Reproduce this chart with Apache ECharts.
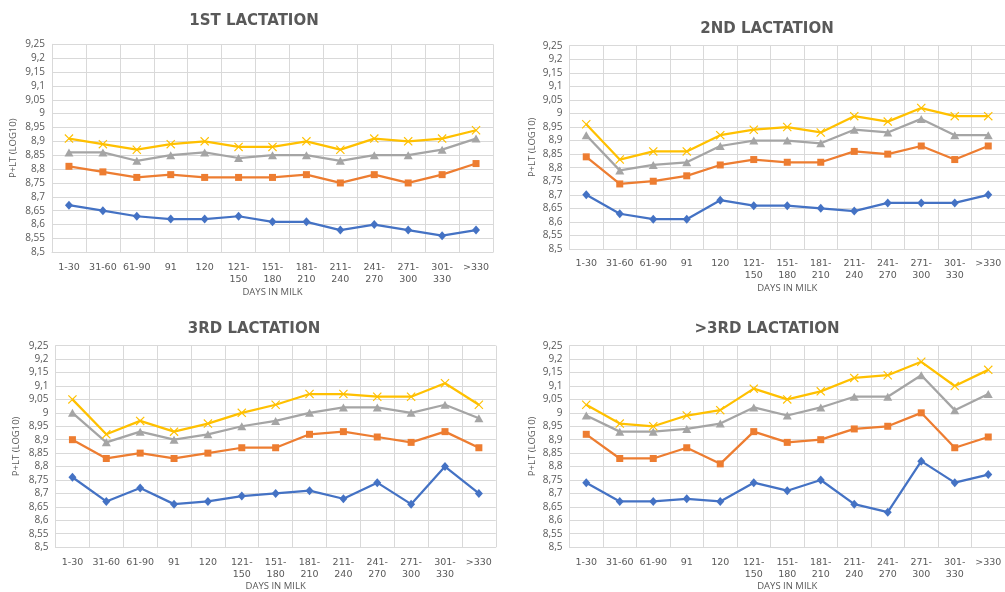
<!DOCTYPE html>
<html><head><meta charset="utf-8">
<script src="https://cdn.jsdelivr.net/npm/echarts@6/dist/echarts.min.js"></script>
<style>html,body{margin:0;padding:0;background:#fff}#c{width:1005px;height:592px}</style>
</head><body><div id="c"></div>
<script>
const categories = ['1-30','31-60','61-90','91','120','121-\n150','151-\n180','181-\n210','211-\n240','241-\n270','271-\n300','301-\n330','>330'];
const panelTitles = ['1ST LACTATION','2ND LACTATION','3RD LACTATION','>3RD LACTATION'];
const yTicks = {min: 8.5, max: 9.25, interval: 0.05};

const p1Blue   = [8.67,8.65,8.63,8.62,8.62,8.63,8.61,8.61,8.58,8.60,8.58,8.56,8.58];
const p1Orange = [8.81,8.79,8.77,8.78,8.77,8.77,8.77,8.78,8.75,8.78,8.75,8.78,8.82];
const p1Gray   = [8.86,8.86,8.83,8.85,8.86,8.84,8.85,8.85,8.83,8.85,8.85,8.87,8.91];
const p1Yellow = [8.91,8.89,8.87,8.89,8.90,8.88,8.88,8.90,8.87,8.91,8.90,8.91,8.94];

const p2Blue   = [8.70,8.63,8.61,8.61,8.68,8.66,8.66,8.65,8.64,8.67,8.67,8.67,8.70];
const p2Orange = [8.84,8.74,8.75,8.77,8.81,8.83,8.82,8.82,8.86,8.85,8.88,8.83,8.88];
const p2Gray   = [8.92,8.79,8.81,8.82,8.88,8.90,8.90,8.89,8.94,8.93,8.98,8.92,8.92];
const p2Yellow = [8.96,8.83,8.86,8.86,8.92,8.94,8.95,8.93,8.99,8.97,9.02,8.99,8.99];

const p3Blue   = [8.76,8.67,8.72,8.66,8.67,8.69,8.70,8.71,8.68,8.74,8.66,8.80,8.70];
const p3Orange = [8.90,8.83,8.85,8.83,8.85,8.87,8.87,8.92,8.93,8.91,8.89,8.93,8.87];
const p3Gray   = [9.00,8.89,8.93,8.90,8.92,8.95,8.97,9.00,9.02,9.02,9.00,9.03,8.98];
const p3Yellow = [9.05,8.92,8.97,8.93,8.96,9.00,9.03,9.07,9.07,9.06,9.06,9.11,9.03];

const p4Blue   = [8.74,8.67,8.67,8.68,8.67,8.74,8.71,8.75,8.66,8.63,8.82,8.74,8.77];
const p4Orange = [8.92,8.83,8.83,8.87,8.81,8.93,8.89,8.90,8.94,8.95,9.00,8.87,8.91];
const p4Gray   = [8.99,8.93,8.93,8.94,8.96,9.02,8.99,9.02,9.06,9.06,9.14,9.01,9.07];
const p4Yellow = [9.03,8.96,8.95,8.99,9.01,9.09,9.05,9.08,9.13,9.14,9.19,9.10,9.16];

const panels = [
  [p1Blue,p1Orange,p1Gray,p1Yellow],
  [p2Blue,p2Orange,p2Gray,p2Yellow],
  [p3Blue,p3Orange,p3Gray,p3Yellow],
  [p4Blue,p4Orange,p4Gray,p4Yellow]
];

const colors = ['#4472C4','#ED7D31','#A5A5A5','#FFC000'];
const xPath = 'path://M0,0.9L0.9,0L5,4.1L9.1,0L10,0.9L5.9,5L10,9.1L9.1,10L5,5.9L0.9,10L0,9.1L4.1,5Z';
const symbols = ['diamond','rect','triangle',xPath];
const symbolSizes = [[8,9],7,[9,8],9];

const grids = [
  {left:52, top:44.3, width:441, height:208},
  {left:569.5, top:45.7, width:440.3, height:203.3},
  {left:55.5, top:345.7, width:440.3, height:202},
  {left:569.5, top:345.7, width:440.3, height:202}
];
const titlePos = [[249,9],[762,17],[249,317],[762,317]];
const yNameGap = [34,32.5,34.5,32.5];
const xNameGap = [35,33,33,33];

const txt = '#595959';
const font = 'Open Sans';
function fmt(v){ let s = (Math.round(v*100)/100).toString(); return s.replace('.',','); }

const option = {
  animation:false,
  backgroundColor:'#fff',
  title: panelTitles.map((t,i)=>({
    text:t, left:titlePos[i][0], top:titlePos[i][1], textAlign:'center',
    textStyle:{fontFamily:'DejaVu Sans', fontSize:15, fontWeight:'bold', color:txt}
  })),
  grid: grids,
  xAxis: grids.map((g,i)=>({
    type:'category', gridIndex:i, data:categories, boundaryGap:true,
    name:'DAYS IN MILK', nameLocation:'middle', nameGap:xNameGap[i],
    nameTextStyle:{fontFamily:font, fontSize:9.5, color:txt},
    axisLine:{lineStyle:{color:'#D9D9D9'}},
    axisTick:{show:false},
    axisLabel:{interval:0, margin:9, fontFamily:'DejaVu Sans', fontSize:9.5, color:txt, lineHeight:12},
    splitLine:{show:true, interval:0, lineStyle:{color:'#D9D9D9', width:1}}
  })),
  yAxis: grids.map((g,i)=>({
    type:'value', gridIndex:i, min:yTicks.min, max:yTicks.max, interval:yTicks.interval,
    name:'P+LT (LOG10)', nameLocation:'middle', nameGap:yNameGap[i], nameRotate:90,
    nameTextStyle:{fontFamily:font, fontSize:9.5, color:txt},
    axisLine:{show:true, lineStyle:{color:'#D9D9D9'}},
    axisTick:{show:false},
    axisLabel:{fontFamily:font, fontSize:10, color:txt, margin:7, formatter:fmt},
    splitLine:{show:true, lineStyle:{color:'#D9D9D9', width:1}}
  })),
  series: []
};
panels.forEach((arrs,pi)=>{
  arrs.forEach((d,si)=>{
    option.series.push({
      type:'line', xAxisIndex:pi, yAxisIndex:pi, data:d,
      symbol:symbols[si], symbolSize:symbolSizes[si], showAllSymbol:true,
      lineStyle:{color:colors[si], width:2.25},
      itemStyle:{color:colors[si]},
      z: 2+si
    });
  });
});
const chart = echarts.init(document.getElementById('c'), null, {renderer:'canvas'});
chart.setOption(option);
</script>
</body></html>
